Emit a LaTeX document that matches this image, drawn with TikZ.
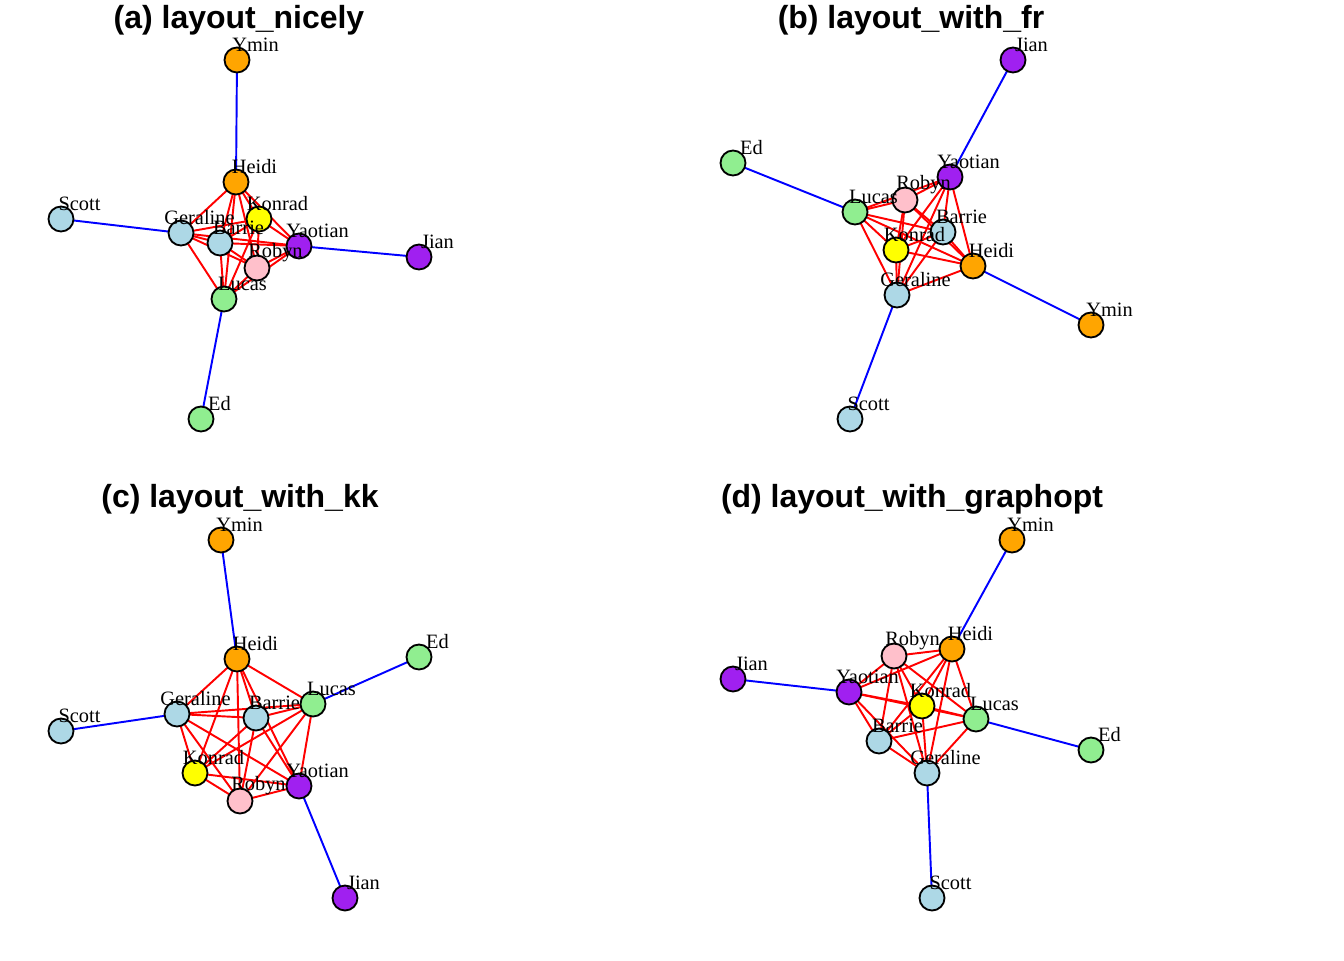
\documentclass[tikz,border=0pt]{standalone}
\usepackage{fontspec}
\setmainfont{Liberation Serif}
\newfontfamily\titlefont{Liberation Sans}
\usetikzlibrary{backgrounds}
\definecolor{orng}{HTML}{FFA500}
\definecolor{yell}{HTML}{FFFF00}
\definecolor{lblue}{HTML}{ADD8E6}
\definecolor{purp}{HTML}{A020F0}
\definecolor{pnk}{HTML}{FFC0CB}
\definecolor{lgreen}{HTML}{90EE90}
\definecolor{redge}{HTML}{FF0000}
\definecolor{bedge}{HTML}{0000FF}
\tikzset{
  vtx/.style={circle, draw=black, line width=1.05pt, minimum size=0.5cm, inner sep=0pt},
  lbl/.style={font=\fontsize{11.6}{12}\selectfont, inner sep=0pt, text=black},
  ttl/.style={font=\titlefont\bfseries\fontsize{18.2}{20}\selectfont, inner sep=0pt},
  redgeline/.style={draw=redge, line width=1.1pt},
  bedgeline/.style={draw=bedge, line width=1.1pt},
}
\begin{document}
\begin{tikzpicture}[x=0.02cm, y=-0.02cm]
\useasboundingbox (0,0) rectangle (1344,960);
% titles
\node[ttl] (ta) at (239,20) {(a) layout\_nicely};
\node[ttl] (tb) at (911,20) {(b) layout\_with\_fr};
\node[ttl] (tc) at (240,499) {(c) layout\_with\_kk};
\node[ttl] (td) at (912,499) {(d) layout\_with\_graphopt};
% panel (a)
\foreach \n/\x/\y/\c in {Ymin/237/60/orng, Heidi/236/182/orng, Konrad/259/219/yell,
  Geraline/181/233/lblue, Barrie/220/243/lblue, Yaotian/299/246/purp, Robyn/257/268/pnk,
  Lucas/224/299/lgreen, Scott/61/219/lblue, Jian/419/257/purp, Ed/201/419/lgreen}
  \node[vtx, fill=\c] (a\n) at (\x,\y) {};
% panel (b)
\foreach \n/\x/\y/\c in {Jian/1013/60/purp, Ed/733/163/lgreen, Yaotian/950/177/purp,
  Robyn/905/200/pnk, Lucas/855/212/lgreen, Barrie/943/232/lblue, Konrad/896/250/yell,
  Heidi/973/266/orng, Geraline/897/295/lblue, Ymin/1091/325/orng, Scott/850/419/lblue}
  \node[vtx, fill=\c] (b\n) at (\x,\y) {};
% panel (c)
\foreach \n/\x/\y/\c in {Ymin/221/540/orng, Heidi/237/659/orng, Ed/419/657/lgreen,
  Geraline/177/714/lblue, Barrie/256/718/lblue, Lucas/313/704/lgreen, Scott/61/731/lblue,
  Konrad/195/773/yell, Yaotian/299/786/purp, Robyn/240/801/pnk, Jian/345/898/purp}
  \node[vtx, fill=\c] (c\n) at (\x,\y) {};
% panel (d)
\foreach \n/\x/\y/\c in {Ymin/1012/540/orng, Robyn/894/656/pnk, Heidi/952/649/orng,
  Jian/733/679/purp, Yaotian/849/692/purp, Konrad/922/706/yell, Lucas/976/719/lgreen,
  Barrie/879/741/lblue, Geraline/927/773/lblue, Ed/1091/750/lgreen, Scott/932/898/lblue}
  \node[vtx, fill=\c] (d\n) at (\x,\y) {};
% edges
\begin{scope}[on background layer]
\fill[white] (0,0) rectangle (1344,960);
\foreach \p in {a,b,c,d}{
  \foreach \u/\v in {Ymin/Heidi, Scott/Geraline, Jian/Yaotian, Ed/Lucas}
    \draw[bedgeline] (\p\u.center) -- (\p\v.center);
  \foreach \u/\v in {Heidi/Konrad, Heidi/Geraline, Heidi/Barrie, Heidi/Yaotian, Heidi/Robyn, Heidi/Lucas,
    Konrad/Geraline, Konrad/Barrie, Konrad/Yaotian, Konrad/Robyn, Konrad/Lucas,
    Geraline/Barrie, Geraline/Yaotian, Geraline/Robyn, Geraline/Lucas,
    Barrie/Yaotian, Barrie/Robyn, Barrie/Lucas,
    Yaotian/Robyn, Yaotian/Lucas, Robyn/Lucas}
    \draw[redgeline] (\p\u.center) -- (\p\v.center);
}
\end{scope}
% labels
\foreach \p in {a,b,c,d}{
  \foreach \n in {Ymin, Heidi, Konrad, Geraline, Barrie, Yaotian, Robyn, Lucas, Scott, Jian, Ed}
    \node[lbl, shift={(18.5,-15.5)}] (\p\n-lab) at (\p\n) {\n};
}
\end{tikzpicture}
\end{document}
